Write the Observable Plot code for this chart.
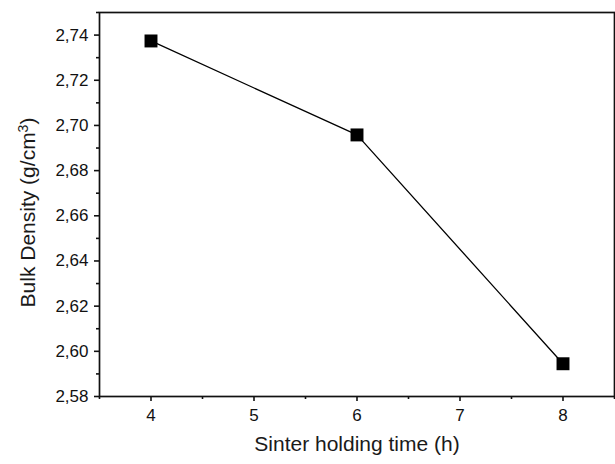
<!DOCTYPE html>
<html>
<head>
<meta charset="utf-8">
<script src="https://cdn.jsdelivr.net/npm/d3@7"></script>
<script src="https://cdn.jsdelivr.net/npm/@observablehq/plot@0.6"></script>
<style>
  html, body { margin: 0; padding: 0; background: #fff; }
</style>
</head>
<body>
<div id="chart"></div>
<script>
const times = [4, 6, 8];
const density = [2.7374, 2.6958, 2.5945];
const xTicks = [4, 5, 6, 7, 8];
const xMinor = [3.5, 4.5, 5.5, 6.5, 7.5, 8.5];
const yTicks = [2.58, 2.60, 2.62, 2.64, 2.66, 2.68, 2.70, 2.72, 2.74];
const yMinor = [2.59, 2.61, 2.63, 2.65, 2.67, 2.69, 2.71, 2.73, 2.75];
const xLabel = "Sinter holding time (h)";
const yLabelBase = "Bulk Density (g/cm";
const yLabelSup = "3";
const yLabelEnd = ")";

const data = times.map((t, i) => ({t, d: density[i]}));
const fmt = v => v.toFixed(2).replace(".", ",");
const yLabelFull = yLabelBase + yLabelSup + yLabelEnd;

const chart = Plot.plot({
  width: 615,
  height: 464,
  marginLeft: 99,
  marginTop: 12,
  marginRight: 1,
  marginBottom: 68,
  x: {domain: [3.5, 8.5]},
  y: {domain: [2.58, 2.75]},
  style: {fontFamily: "'Liberation Sans', Arial, sans-serif", fontSize: "17px", color: "#111", background: "#fff"},
  marks: [
    Plot.axisX(xTicks, {tickSize: 5, tickPadding: 7, fontSize: 17, label: null, strokeWidth: 1.6, stroke: "#111"}),
    Plot.axisX(xMinor, {tickSize: 3, tickFormat: () => "", label: null, strokeWidth: 1.6, stroke: "#111"}),
    Plot.axisY(yTicks, {tickSize: 5, tickPadding: 6, fontSize: 17, tickFormat: fmt, label: null, strokeWidth: 1.6, stroke: "#111"}),
    Plot.axisY(yMinor, {tickSize: 3, tickFormat: () => "", label: null, strokeWidth: 1.6, stroke: "#111"}),
    Plot.frame({stroke: "#111", strokeWidth: 1.7}),
    Plot.line(data, {x: "t", y: "d", stroke: "#000", strokeWidth: 1.3}),
    Plot.dot(data, {x: "t", y: "d", symbol: "square", r: 7.3, fill: "#000", stroke: "none"}),
    Plot.text([xLabel], {frameAnchor: "bottom", dy: 54, fontSize: 21, fill: "#1a1a1a"}),
    Plot.text([yLabelFull], {frameAnchor: "left", textAnchor: "middle", dx: -71, dy: 8, rotate: -90, fontSize: 21, fill: "#1a1a1a"})
  ]
});
document.getElementById("chart").appendChild(chart);

// render the "3" of cm3 as a superscript
d3.select(chart).selectAll("text")
  .filter(function () { return this.textContent === yLabelFull; })
  .each(function () {
    const t = d3.select(this);
    t.text(yLabelBase);
    t.append("tspan").attr("dy", "-0.5em").attr("font-size", "14px").text(yLabelSup);
    t.append("tspan").attr("dy", "7px").text(yLabelEnd);
  });
</script>
</body>
</html>
